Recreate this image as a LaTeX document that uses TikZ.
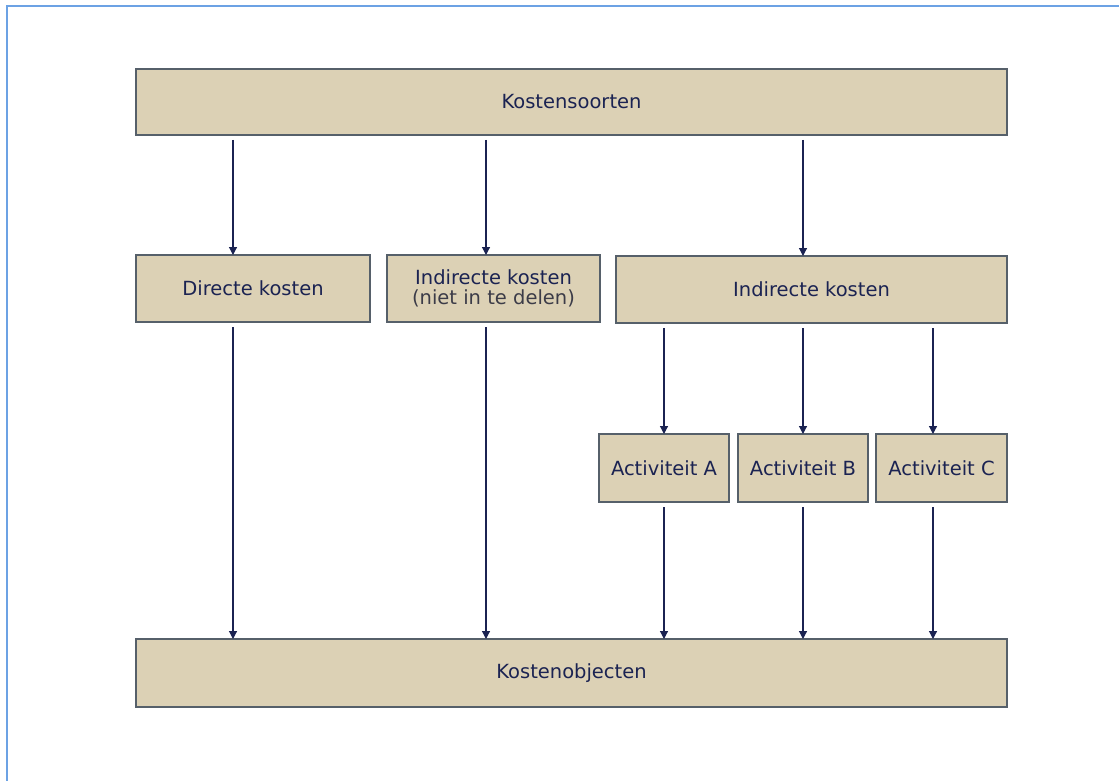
\documentclass[tikz,border=0pt]{standalone}
\usepackage{fontspec}
\setmainfont{DejaVu Sans}
\usetikzlibrary{arrows.meta}
\definecolor{boxfill}{HTML}{DCD1B5}
\definecolor{boxline}{HTML}{56606A}
\definecolor{navy}{HTML}{1B2352}
\definecolor{frameblue}{HTML}{6CA2E4}
\definecolor{subtext}{HTML}{3C3C48}
\tikzset{
  box/.style={draw=boxline, line width=1.8pt, fill=boxfill, inner sep=0pt, outer sep=0pt,
    text=navy, font=\fontsize{19.5}{23}\selectfont, align=center},
  arr/.style={draw=navy, line width=1.2pt, shorten <=5pt,
    -{Triangle[width=8pt,length=8pt]}},
}
\begin{document}
\begin{tikzpicture}[x=1pt,y=-1pt]
\useasboundingbox (0,0) rectangle (1119,781);
\fill[white] (0,0) rectangle (1119,781);
\draw[frameblue, line width=2.2pt] (7,781) -- (7,6) -- (1119,6);

\node[box, minimum width=871pt, minimum height=66pt] (ks) at (571.5,102) {Kostensoorten};
\node[box, minimum width=234pt, minimum height=67pt] (dk) at (253,288.5) {Directe kosten};
\node[box, minimum width=213pt, minimum height=67pt] (in) at (493.5,288.5)
  {Indirecte kosten\\[-3pt]{\color{subtext}(niet in te delen)}};
\node[box, minimum width=391pt, minimum height=67pt] (ik) at (811.5,289.5) {Indirecte kosten};
\node[box, minimum width=130pt, minimum height=68pt] (aa) at (664,468) {Activiteit A};
\node[box, minimum width=130pt, minimum height=68pt] (ab) at (803,468) {Activiteit B};
\node[box, minimum width=131pt, minimum height=68pt] (ac) at (941.5,468) {Activiteit C};
\node[box, minimum width=871pt, minimum height=68pt] (ko) at (571.5,673) {Kostenobjecten};

\coordinate (c1) at (233,0);
\coordinate (c2) at (486,0);
\coordinate (c3) at (803,0);
\coordinate (ca) at (664,0);
\coordinate (cb) at (803,0);
\coordinate (cc) at (933,0);

\draw[arr] (ks.south -| c1) -- (dk.north -| c1);
\draw[arr] (ks.south -| c2) -- (in.north -| c2);
\draw[arr] (ks.south -| c3) -- (ik.north -| c3);

\draw[arr] (ik.south -| ca) -- (aa.north -| ca);
\draw[arr] (ik.south -| cb) -- (ab.north -| cb);
\draw[arr] (ik.south -| cc) -- (ac.north -| cc);

\draw[arr] (dk.south -| c1) -- (ko.north -| c1);
\draw[arr] (in.south -| c2) -- (ko.north -| c2);
\draw[arr] (aa.south -| ca) -- (ko.north -| ca);
\draw[arr] (ab.south -| cb) -- (ko.north -| cb);
\draw[arr] (ac.south -| cc) -- (ko.north -| cc);
\end{tikzpicture}
\end{document}
